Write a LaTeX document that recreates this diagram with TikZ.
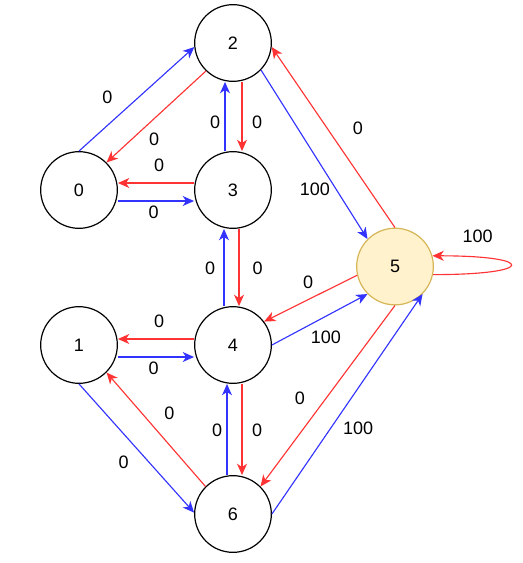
\documentclass[tikz,border=0pt]{standalone}
\usepackage{fontspec}
\setmainfont{Liberation Sans}
\usepackage{xcolor}
\usetikzlibrary{positioning, arrows.meta}
\definecolor{edgeblue}{RGB}{51, 51, 255}
\definecolor{edgered}{RGB}{255, 51, 51}
\definecolor{sinkfill}{RGB}{255, 242, 204}
\definecolor{sinkdraw}{RGB}{214, 182, 86}

\begin{document}
\begin{tikzpicture}[
    x=0.75pt, y=-0.75pt,
    >={Stealth[length=8.5pt, width=7.5pt, inset=2.5pt]},
    on grid,
    % -------------------------------------------------
    % Node styles
    % -------------------------------------------------
    vertex/.style={
        circle,
        draw=black,
        line width=0.9pt,
        fill=white,
        minimum size=57.5pt,
        inner sep=0pt,
        font=\fontsize{13.5pt}{16pt}\selectfont
    },
    sinkvertex/.style={
        vertex,
        draw=sinkdraw,
        fill=sinkfill
    },
    % -------------------------------------------------
    % Connections
    % -------------------------------------------------
    bluearrow/.style={
        ->,
        line width=0.85pt,
        draw=edgeblue
    },
    redarrow/.style={
        ->,
        line width=0.85pt,
        draw=edgered
    },
    edgelabel/.style={
        font=\fontsize{13.5pt}{16pt}\selectfont,
        inner sep=3.2pt
    }
]

\useasboundingbox (0,0) rectangle (523,563);

% =====================================================
% Vertices
% =====================================================

\node[vertex] (n0) at (79,190) {0};

\node[vertex, right=115.5pt of n0] (n3) {3};

\node[vertex, above=110.25pt of n3] (n2) {2};

\node[vertex, below=116.25pt of n3] (n4) {4};

\node[vertex, left=115.5pt of n4] (n1) {1};

\node[vertex, below=126.75pt of n4] (n6) {6};

\node[sinkvertex, below right=57.4pt and 121.5pt of n3] (n5) {5};

% =====================================================
% 0 <-> 2, 0 <-> 3
% =====================================================

\draw[bluearrow]
    (n0.north) -- node[edgelabel, pos=0.37, above left=3.3pt and 3.4pt]{0} (n2.186);

\draw[redarrow]
    (n2.226) -- node[edgelabel, pos=0.62, below right]{0} (n0.45);

\draw[redarrow]
    ([yshift=5.25pt]n3.west) -- node[edgelabel, pos=0.46, above=4.75pt]{0} ([yshift=5.25pt]n0.east);

\draw[bluearrow]
    ([yshift=-8.25pt]n0.east) -- node[edgelabel, pos=0.47, below]{0} ([yshift=-8.25pt]n3.west);

% =====================================================
% 2 <-> 3 <-> 4 <-> 6
% =====================================================

\draw[bluearrow]
    ([xshift=-6pt]n3.north) -- node[edgelabel, pos=0.42, left]{0} ([xshift=-6pt]n2.south);

\draw[redarrow]
    ([xshift=6.75pt]n2.south) -- node[edgelabel, pos=0.58, right=4pt]{0} ([xshift=6.75pt]n3.north);

\draw[bluearrow]
    ([xshift=-6.75pt]n4.north) -- node[edgelabel, pos=0.49, left=3pt]{0} ([xshift=-6.75pt]n3.south);

\draw[redarrow]
    ([xshift=4.5pt]n3.south) -- node[edgelabel, pos=0.51, right=6.5pt]{0} ([xshift=4.5pt]n4.north);

\draw[bluearrow]
    ([xshift=-4.5pt]n6.north) -- node[edgelabel, pos=0.49, left]{0} ([xshift=-4.5pt]n4.south);

\draw[redarrow]
    ([xshift=6.75pt]n4.south) -- node[edgelabel, pos=0.51, right=4pt]{0} ([xshift=6.75pt]n6.north);

% =====================================================
% 1 <-> 4, 1 <-> 6
% =====================================================

\draw[redarrow]
    ([yshift=4.5pt]n4.west) -- node[edgelabel, pos=0.46, above=4.75pt]{0} ([yshift=4.5pt]n1.east);

\draw[bluearrow]
    ([yshift=-9pt]n1.east) -- node[edgelabel, pos=0.47, below]{0} ([yshift=-9pt]n4.west);

\draw[bluearrow]
    (n1.south) -- node[edgelabel, pos=0.51, below left=0.9pt and 3.2pt]{0} (n6.178);

\draw[redarrow]
    (n6.135) -- node[edgelabel, pos=0.52, above right=1.7pt and 4.2pt]{0} (n1.-45);

% =====================================================
% Edges at 5
% =====================================================

\draw[redarrow]
    (n5.north) -- node[edgelabel, pos=0.47, above right=2.2pt and 8.2pt]{0} (n2.-6);

\draw[bluearrow]
    (n2.-44) -- node[edgelabel, pos=0.65, below left=-1.1pt and -3.4pt]{100} (n5.135);

\draw[redarrow]
    (n5.193) -- node[edgelabel, pos=0.45, above left=2pt and -2pt]{0} (n4.37);

\draw[bluearrow]
    (n4.east) -- node[edgelabel, pos=0.47, below right=4pt and -8.1pt]{100} (n5.225);

\draw[redarrow]
    (n5.south) -- node[edgelabel, pos=0.58, above left=1pt and 5.4pt]{0} (n6.45);

\draw[bluearrow]
    (n6.east) -- node[edgelabel, pos=0.44, below right]{100} (n5.-45);

\draw[redarrow]
    (n5.-12) .. controls +(104,0) and +(104,0) .. (n5.16)
    node[edgelabel, pos=0.85, above=7pt, xshift=4pt]{100};

\end{tikzpicture}
\end{document}
